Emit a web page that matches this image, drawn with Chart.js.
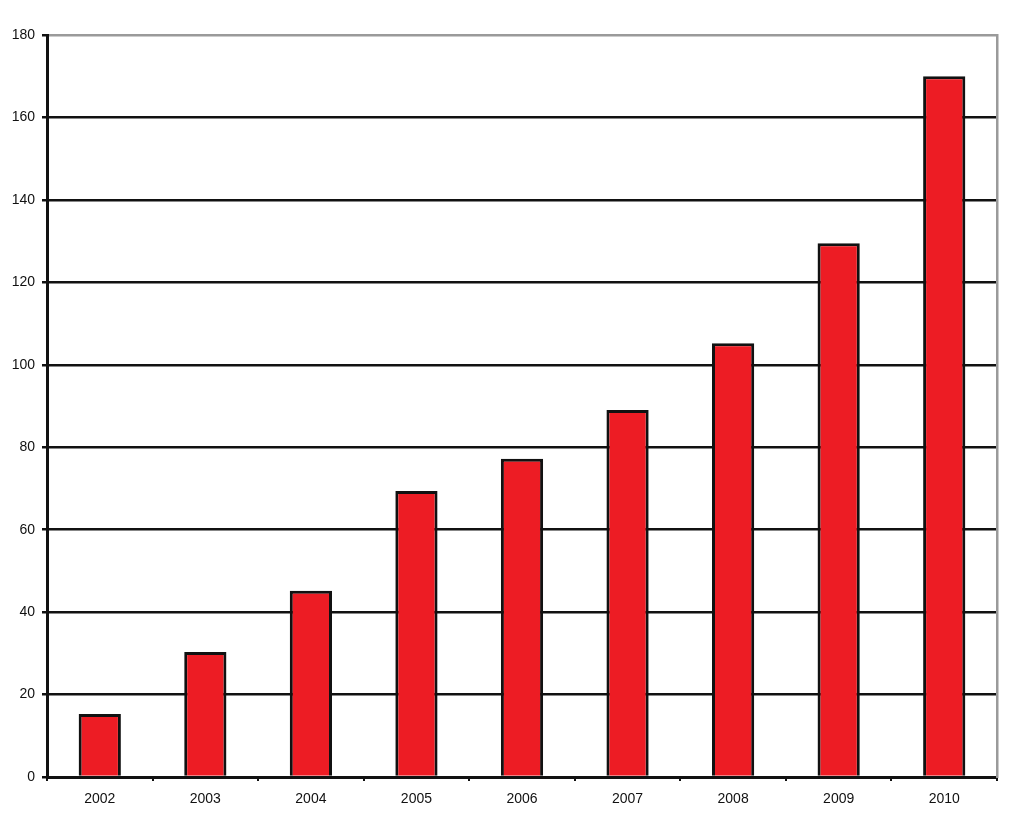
<!DOCTYPE html>
<html>
<head>
<meta charset="utf-8">
<script src="https://cdn.jsdelivr.net/npm/chart.js@4"></script>
<style>
  html, body { margin: 0; padding: 0; background: #fff; }
  #wrap { width: 1024px; height: 824px; }
</style>
</head>
<body>
<div id="wrap"><canvas id="barChart" width="1024" height="824"></canvas></div>
<script>
const years = ["2002","2003","2004","2005","2006","2007","2008","2009","2010"];
const values = [15.3, 30.3, 45.2, 69.4, 77.2, 89, 105.2, 129.5, 170];
const yMax = 180;
const yStep = 20;

const ctx = document.getElementById('barChart').getContext('2d');

const data = {
  labels: years,
  datasets: [{
    data: values,
    backgroundColor: '#ed1c24',
    borderColor: '#111',
    borderWidth: 3,
    borderSkipped: 'bottom',
    barPercentage: 0.4,
    categoryPercentage: 1
  }]
};

const tickFont = { family: "'Liberation Sans', Arial, sans-serif", size: 14 };

const options = {
  responsive: false,
  animation: false,
  layout: { padding: { top: 35, right: 0, left: 0, bottom: 0 } },
  plugins: {
    legend: { display: false },
    tooltip: { enabled: false }
  },
  scales: {
    x: {
      grid: {
        offset: true,
        drawOnChartArea: false,
        drawTicks: true,
        tickLength: 4,
        tickColor: '#111',
        lineWidth: 2
      },
      border: { color: '#111', width: 3 },
      ticks: { color: '#111', font: tickFont, padding: 10 },
      afterFit: (scale) => { scale.height = 47; }
    },
    y: {
      min: 0,
      max: yMax,
      ticks: { stepSize: yStep, color: '#111', font: tickFont, padding: 7 },
      grid: {
        color: (c) => c.tick && c.tick.value === yMax ? '#9a9a9a' : '#111',
        tickColor: '#111',
        lineWidth: 2.5,
        tickLength: 5
      },
      border: { color: '#111', width: 3 },
      afterFit: (scale) => { scale.width = 47; }
    },
    yRight: {
      position: 'right',
      min: 0,
      max: yMax,
      ticks: { display: false },
      grid: { drawOnChartArea: false, drawTicks: false },
      border: { color: '#9a9a9a', width: 2.5 },
      afterFit: (scale) => { scale.width = 27; }
    }
  }
};

const barChart = new Chart(ctx, {
  type: 'bar',
  data: data,
  options: options
});
</script>
</body>
</html>
